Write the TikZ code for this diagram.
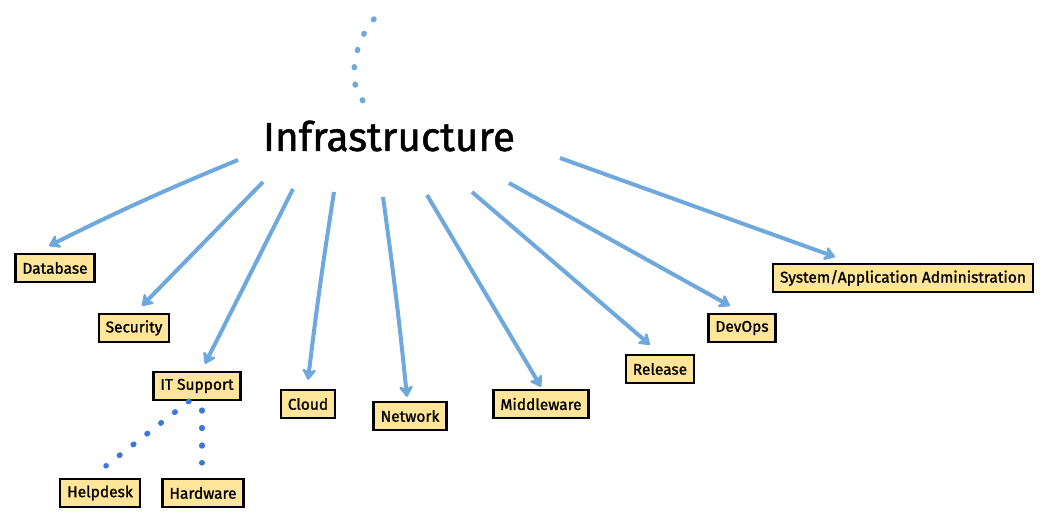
\documentclass[tikz,border=0pt]{standalone}
\usepackage{fontspec}
\setmainfont{Fira Sans}
\newfontfamily\sketchfont{Fira Sans}[FakeBold=1.2]
\usetikzlibrary{arrows.meta}
\definecolor{arrowblue}{HTML}{6FA8DC}
\definecolor{dotblue}{HTML}{3C78D8}
\definecolor{boxyellow}{HTML}{FFE599}
\tikzset{
	topic/.style={draw=black, line width=2.3pt, fill=boxyellow, font=\sketchfont\fontsize{15.5}{17}\selectfont, inner xsep=7pt, minimum height=28pt},
	heading/.style={font=\sketchfont\fontsize{40.5}{42}\selectfont},
	arr/.style={draw=arrowblue, line width=4pt, -{Stealth[length=13pt,width=17pt,inset=4pt,round]}},
	dots/.style={line width=5.5pt, line cap=round, dash pattern=on 0.8pt off 16.7pt}
}
\begin{document}
\begin{tikzpicture}[x=1pt,y=-1pt]
	\useasboundingbox (0,0) rectangle (1052,518);
	%Title
	\node[heading] (infra) at (389,136) {Infrastructure};
	%Topics
	\node[topic] (db) at (55,268) {Database};
	\node[topic] (sec) at (134,328) {Security};
	\node[topic] (its) at (197,386) {IT Support};
	\node[topic] (cloud) at (308,404) {Cloud};
	\node[topic] (net) at (410,416) {Network};
	\node[topic] (mid) at (541,404) {Middleware};
	\node[topic] (rel) at (660,369) {Release};
	\node[topic] (dev) at (742,328) {DevOps};
	\node[topic] (sys) at (903,278) {System/Application Administration};
	\node[topic] (help) at (100,493) {Helpdesk};
	\node[topic] (hard) at (203,493) {Hardware};
	%Arrow starts
	\coordinate (s1) at (238,160);
	\coordinate (s2) at (263,182);
	\coordinate (s3) at (293,189);
	\coordinate (s4) at (334,192);
	\coordinate (s5) at (383,197);
	\coordinate (s6) at (427,195);
	\coordinate (s7) at (472,192);
	\coordinate (s8) at (509,183);
	\coordinate (s9) at (560,158);
	%Arrows
	\draw[arr] (s1) to[bend right=2] ([xshift=-6pt,yshift=7pt]db.north);
	\draw[arr] (s2) -- ([xshift=8pt,yshift=7pt]sec.north);
	\draw[arr] (s3) -- ([xshift=8pt,yshift=7pt]its.north);
	\draw[arr] (s4) to[bend right=1] ([yshift=9pt]cloud.north);
	\draw[arr] (s5) to[bend left=1] ([xshift=-3pt,yshift=4pt]net.north);
	\draw[arr] (s6) -- ([yshift=2pt]mid.north);
	\draw[arr] (s7) -- ([xshift=-10pt,yshift=9pt]rel.north);
	\draw[arr] (s8) -- ([xshift=-12pt,yshift=7pt]dev.north);
	\draw[arr] (s9) -- ([xshift=-68pt,yshift=6pt]sys.north);
	%Dotted lines
	\coordinate (t1) at (374,19);
	\coordinate (t2) at (365,103);
	\draw[dots, arrowblue] (t1) .. controls (355,40) and (345,85) .. (t2);
	\draw[dots, dotblue] ([xshift=-8pt]its.south) -- ([xshift=6pt,yshift=12pt]help.north);
	\draw[dots, dotblue] ([xshift=5pt,yshift=-9pt]its.south) -- ([xshift=-1pt,yshift=15pt]hard.north);
\end{tikzpicture}
\end{document}
